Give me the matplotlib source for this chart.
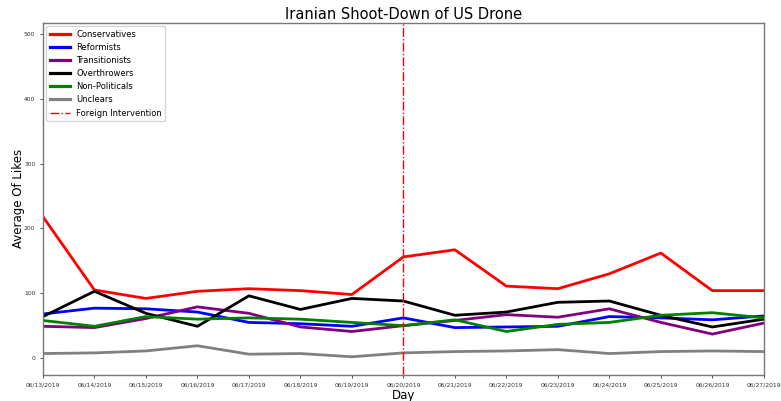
import numpy as np
import matplotlib.pyplot as plt

days = ["06/13/2019", "06/14/2019", "06/15/2019", "06/16/2019", "06/17/2019",
        "06/18/2019", "06/19/2019", "06/20/2019", "06/21/2019", "06/22/2019",
        "06/23/2019", "06/24/2019", "06/25/2019", "06/26/2019", "06/27/2019"]

conservatives = [218, 105, 92, 103, 107, 104, 98, 156, 167, 111, 107, 130, 162, 104, 104]
reformists = [68, 77, 76, 71, 55, 53, 49, 62, 47, 48, 49, 64, 62, 59, 65]
transitionists = [49, 47, 61, 79, 69, 48, 41, 50, 58, 67, 63, 76, 55, 37, 54]
overthrowers = [64, 103, 69, 49, 96, 75, 92, 88, 66, 71, 86, 88, 66, 48, 60]
non_politicals = [58, 49, 64, 60, 62, 60, 55, 50, 59, 41, 52, 55, 66, 70, 62]
unclears = [7, 8, 11, 19, 6, 7, 2, 8, 10, 11, 13, 7, 10, 11, 10]

intervention_day = "06/20/2019"

fig = plt.figure(figsize=(7.81, 4.01), dpi=100)
ax = fig.add_axes([0.055, 0.065, 0.923, 0.878])

x = np.arange(len(days))
ax.plot(x, conservatives, color="red", lw=2, label="Conservatives")
ax.plot(x, reformists, color="blue", lw=2, label="Reformists")
ax.plot(x, transitionists, color="purple", lw=2, label="Transitionists")
ax.plot(x, overthrowers, color="black", lw=2, label="Overthrowers")
ax.plot(x, non_politicals, color="green", lw=2, label="Non-Politicals")
ax.plot(x, unclears, color="gray", lw=2, label="Unclears")
ax.axvline(days.index(intervention_day), color="red", ls="-.", lw=1,
           label="Foreign Intervention")

ax.set_xticks(x)
ax.set_xticklabels(days)
ax.set_xlim(0, len(days) - 1)
ax.set_ylim(-26, 517)
ax.set_yticks([0, 100, 200, 300, 400, 500])
ax.tick_params(labelsize=4.3, length=2, width=0.6, colors="#333333")
for s in ax.spines.values():
    s.set_color("#777777")
    s.set_linewidth(1)

ax.set_title("Iranian Shoot-Down of US Drone", fontsize=10.5, pad=3)
ax.set_xlabel("Day", fontsize=8.5, labelpad=1)
ax.set_ylabel("Average Of Likes", fontsize=8.5, labelpad=-1)
leg = ax.legend(loc="upper left", fontsize=6, handlelength=2.4, borderaxespad=0.4,
                labelspacing=0.5)
for line in leg.get_lines()[:6]:
    line.set_linewidth(2.3)

plt.savefig("out.png", dpi=100)
